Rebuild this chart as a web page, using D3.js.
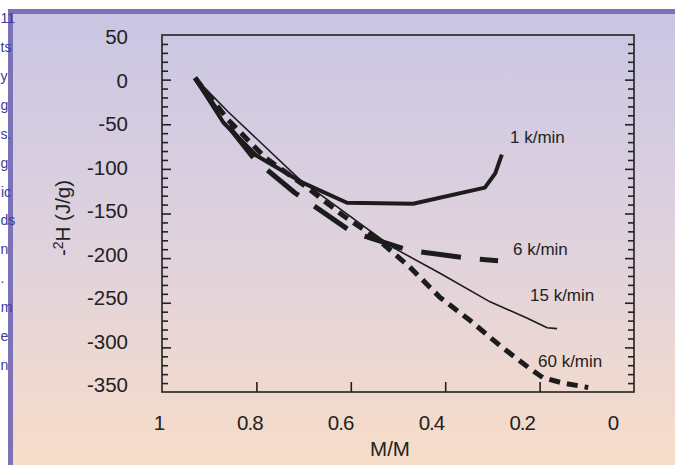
<!DOCTYPE html>
<html>
<head>
<meta charset="utf-8">
<script src="https://cdn.jsdelivr.net/npm/d3@7"></script>
<style>
    html, body { margin: 0; padding: 0; background: #fff; }
    svg { display: block; font-family: "Liberation Sans", Arial, sans-serif; }
</style>
</head>
<body>
<div id="chart"></div>
<script>
// values
const massFrac1 = [0.93, 0.87, 0.80, 0.70, 0.608, 0.468, 0.316, 0.294, 0.280];
const enthalpy1 = [2, -48, -85, -116, -138, -139, -121, -105, -84];

const massFrac6 = [0.93, 0.867, 0.803, 0.718, 0.597, 0.479, 0.354, 0.288];
const enthalpy6 = [2, -47, -90, -127, -171, -191, -200, -203];

const massFrac15 = [0.93, 0.86, 0.708, 0.511, 0.411, 0.305, 0.227, 0.184, 0.163];
const enthalpy15 = [2, -36, -112, -188, -217, -249, -267, -278, -279];

const massFrac60 = [0.93, 0.86, 0.78, 0.70, 0.617, 0.545, 0.475, 0.411, 0.347, 0.284, 0.220, 0.193, 0.150, 0.097];
const enthalpy60 = [2, -45, -88, -118, -152, -178, -210, -244, -270, -298, -324, -334, -340, -345];

const rateLabels = ['1 k/min', '6 k/min', '15 k/min', '60 k/min'];
const xTicks = [1, 0.8, 0.6, 0.4, 0.2, 0];
const yTicks = [50, 0, -50, -100, -150, -200, -250, -300, -350];
// fragments of a neighbouring text column, clipped by the frame
const sideText = ['11', 'ts', 'y', 'g', 's.', 'g', 'ic', 'ds', 'n', '.', 'm', 'e', 'n'];

const width = 675;
const height = 465;

const svg = d3.select('#chart')
    .append('svg')
    .attr('width', width)
    .attr('height', height);

const grad = svg.append('defs').append('linearGradient')
    .attr('id', 'bg')
    .attr('x1', 0).attr('y1', 0).attr('x2', 0).attr('y2', 1);
grad.append('stop').attr('offset', '0%').attr('stop-color', '#c9c5e3');
grad.append('stop').attr('offset', '50%').attr('stop-color', '#dfd2de');
grad.append('stop').attr('offset', '100%').attr('stop-color', '#f7dcc8');

// panel + purple frame bars
svg.append('rect').attr('x', 8).attr('y', 9).attr('width', width - 8).attr('height', height - 9)
    .attr('fill', 'url(#bg)');
svg.append('rect').attr('x', 8).attr('y', 9).attr('width', width - 8).attr('height', 5).attr('fill', '#7b72b8');
svg.append('rect').attr('x', 8).attr('y', 9).attr('width', 5).attr('height', height - 9).attr('fill', '#7b72b8');

const sideY = d3.scaleLinear().domain([0, sideText.length - 1]).range([23, 370]);
const sideRight = [12, 9.5, 7, 7.5, 7.5, 7.5, 11, 11, 6, 2, 12.5, 6, 4.5];
svg.append('g')
    .selectAll('text')
    .data(sideText)
    .join('text')
    .attr('x', (d, i) => sideRight[i])
    .attr('y', (d, i) => sideY(i))
    .attr('text-anchor', 'end')
    .attr('font-size', 14)
    .attr('fill', '#3d3a9e')
    .text((d) => d)
    .each(function () {
        // keep the whole fragment inside the page
        const box = this.getBBox();
        if (box.x < 0.5) {
            d3.select(this).attr('text-anchor', 'start').attr('x', 0.5);
        }
    });

const plot = { left: 162, right: 634, top: 35, bottom: 392 };

const xScale = d3.scaleLinear().domain([1, 0]).range([plot.left, plot.right]);
const yScale = d3.scaleLinear().domain([-350, 50]).range([plot.bottom, plot.top]);
// tick labels sit on a slightly tighter spacing than the ticks themselves
const xLabelScale = d3.scaleLinear().domain([1, 0]).range([159, 613]);
const yLabelScale = d3.scaleLinear().domain([-350, 50]).range([385, 37]);

const minorY = d3.range(-340, 50, 10).filter((d) => d % 50 !== 0);
const majorY = yTicks.filter((d) => d > -350 && d < 50);

function tickAxis(g, axis) {
    g.call(axis);
    g.select('.domain').remove();
    g.selectAll('line').attr('stroke', '#222').attr('stroke-width', 1.6);
}

// left ticks (pointing in)
svg.append('g').attr('transform', `translate(${plot.left},0)`)
    .call((g) => tickAxis(g, d3.axisRight(yScale).tickValues(minorY).tickSize(6).tickFormat('')));
svg.append('g').attr('transform', `translate(${plot.left},0)`)
    .call((g) => tickAxis(g, d3.axisRight(yScale).tickValues(majorY).tickSize(9).tickFormat('')));
// right ticks
svg.append('g').attr('transform', `translate(${plot.right},0)`)
    .call((g) => tickAxis(g, d3.axisLeft(yScale).tickValues(minorY).tickSize(6).tickFormat('')));
svg.append('g').attr('transform', `translate(${plot.right},0)`)
    .call((g) => tickAxis(g, d3.axisLeft(yScale).tickValues(majorY).tickSize(9).tickFormat('')));
// bottom ticks
svg.append('g').attr('transform', `translate(0,${plot.bottom})`)
    .call((g) => tickAxis(g, d3.axisTop(xScale).tickValues([0.8, 0.6, 0.4, 0.2]).tickSize(10).tickFormat('')));

svg.append('rect')
    .attr('x', plot.left).attr('y', plot.top)
    .attr('width', plot.right - plot.left).attr('height', plot.bottom - plot.top)
    .attr('fill', 'none').attr('stroke', '#222').attr('stroke-width', 1.6);

// tick labels
svg.append('g')
    .selectAll('text')
    .data(yTicks)
    .join('text')
    .attr('x', 128)
    .attr('y', (d) => yLabelScale(d) + 7)
    .attr('text-anchor', 'end')
    .attr('font-size', 20.5)
    .attr('fill', '#222')
    .text((d) => d);

svg.append('g')
    .selectAll('text')
    .data(xTicks)
    .join('text')
    .attr('x', (d) => xLabelScale(d))
    .attr('y', 430)
    .attr('text-anchor', 'middle')
    .attr('font-size', 20.5)
    .attr('letter-spacing', -1)
    .attr('fill', '#222')
    .text((d) => d);

svg.append('text')
    .attr('x', 390).attr('y', 456)
    .attr('text-anchor', 'middle')
    .attr('font-size', 20.5)
    .attr('fill', '#222')
    .text('M/M');

const yTitle = svg.append('text')
    .attr('transform', 'translate(70,218) rotate(-90)')
    .attr('text-anchor', 'middle')
    .attr('font-size', 20.5)
    .attr('fill', '#222');
yTitle.append('tspan').text('-');
yTitle.append('tspan').attr('font-size', 14).attr('dy', -7).text('2');
yTitle.append('tspan').attr('dy', 7).text('H (J/g)');

// curves
const line = d3.line()
    .x((d) => xScale(d[0]))
    .y((d) => yScale(d[1]));

const series = [
    { x: massFrac1, y: enthalpy1, width: 4, dash: null },
    { x: massFrac6, y: enthalpy6, width: 5, dash: '40,19' },
    { x: massFrac15, y: enthalpy15, width: 1.6, dash: null },
    { x: massFrac60, y: enthalpy60, width: 5, dash: '11,7' },
];

svg.append('g')
    .selectAll('path')
    .data(series)
    .join('path')
    .attr('d', (s) => line(d3.zip(s.x, s.y)))
    .attr('fill', 'none')
    .attr('stroke', '#1c1c1c')
    .attr('stroke-width', (s) => s.width)
    .attr('stroke-linejoin', 'round')
    .attr('stroke-dasharray', (s) => s.dash);

const labelPos = [[510, 143], [513, 255], [530, 301], [538, 367]];
svg.append('g')
    .selectAll('text')
    .data(rateLabels)
    .join('text')
    .attr('x', (d, i) => labelPos[i][0])
    .attr('y', (d, i) => labelPos[i][1])
    .attr('font-size', 17)
    .attr('fill', '#222')
    .text((d) => d);
</script>
</body>
</html>
